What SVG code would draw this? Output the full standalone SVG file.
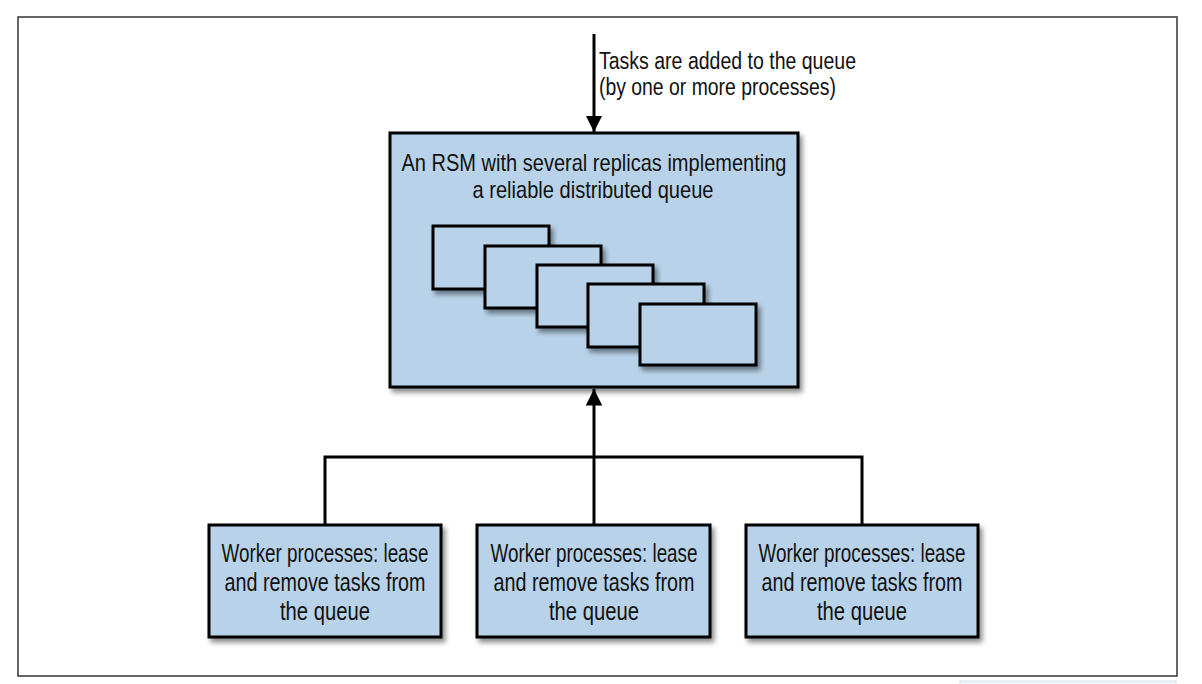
<svg xmlns="http://www.w3.org/2000/svg" width="1202" height="684" viewBox="0 0 1202 684">
<defs>
<filter id="sh" x="-10%" y="-10%" width="130%" height="140%">
<feDropShadow dx="3" dy="4" stdDeviation="2.5" flood-color="#000" flood-opacity="0.45"/>
</filter>
<marker id="arr" viewBox="0 0 10 10" refX="10" refY="5" markerWidth="5.5" markerHeight="6" markerUnits="strokeWidth" orient="auto">
<path d="M0,0 L10,5 L0,10 Z" fill="#000"/>
</marker>
</defs>
<style>
.box{fill:#b8d3e9;stroke:#000;stroke-width:3;filter:url(#sh)}
.t{font-family:"Liberation Sans Narrow","Liberation Sans",Arial,sans-serif;fill:#111;text-anchor:middle}
.lbl{font-family:"Liberation Sans Narrow","Liberation Sans",Arial,sans-serif;fill:#111}
.ln{stroke:#000;stroke-width:3;fill:none}
</style>
<rect x="0" y="0" width="1202" height="684" fill="#fff"/>
<rect x="18" y="17" width="1159" height="659" fill="#fff" stroke="#333" stroke-width="1.5"/>
<rect x="960" y="681" width="216" height="4" fill="#eef3f9" stroke="#dde6f0" stroke-width="1"/>

<g id="connectors">
<line class="ln" x1="594" y1="34" x2="594" y2="132" marker-end="url(#arr)"/>
<line class="ln" x1="594" y1="525" x2="594" y2="389" marker-end="url(#arr)"/>
<polyline class="ln" points="325,525 325,457 862,457 862,525"/>
</g>

<g id="label-top">
<text class="lbl" x="599" y="69" font-size="23" textLength="257" lengthAdjust="spacingAndGlyphs">Tasks are added to the queue</text>
<text class="lbl" x="599" y="95" font-size="23" textLength="237" lengthAdjust="spacingAndGlyphs">(by one or more processes)</text>
</g>

<g id="rsm">
<rect class="box" x="390" y="133" width="408" height="254"/>
<text class="t" x="594" y="171" font-size="24" textLength="385" lengthAdjust="spacingAndGlyphs">An RSM with several replicas implementing</text>
<text class="t" x="593" y="198" font-size="24" textLength="241" lengthAdjust="spacingAndGlyphs">a reliable distributed queue</text>
<g id="replicas">
<rect class="box" x="433" y="226" width="116" height="63"/>
<rect class="box" x="485" y="246" width="116" height="62"/>
<rect class="box" x="537" y="265" width="116" height="62"/>
<rect class="box" x="588" y="284" width="116" height="63"/>
<rect class="box" x="640" y="304" width="116" height="61"/>
</g>
</g>

<g id="worker1">
<rect class="box" x="209" y="525" width="232" height="112"/>
<text class="t" x="325" y="562" font-size="26" textLength="207" lengthAdjust="spacingAndGlyphs">Worker processes: lease</text>
<text class="t" x="325" y="591" font-size="26" textLength="201" lengthAdjust="spacingAndGlyphs">and remove tasks from</text>
<text class="t" x="325" y="620" font-size="26" textLength="90" lengthAdjust="spacingAndGlyphs">the queue</text>
</g>
<g id="worker2">
<rect class="box" x="477" y="525" width="233" height="112"/>
<text class="t" x="594" y="562" font-size="26" textLength="207" lengthAdjust="spacingAndGlyphs">Worker processes: lease</text>
<text class="t" x="594" y="591" font-size="26" textLength="201" lengthAdjust="spacingAndGlyphs">and remove tasks from</text>
<text class="t" x="594" y="620" font-size="26" textLength="90" lengthAdjust="spacingAndGlyphs">the queue</text>
</g>
<g id="worker3">
<rect class="box" x="746" y="525" width="232" height="112"/>
<text class="t" x="862" y="562" font-size="26" textLength="207" lengthAdjust="spacingAndGlyphs">Worker processes: lease</text>
<text class="t" x="862" y="591" font-size="26" textLength="201" lengthAdjust="spacingAndGlyphs">and remove tasks from</text>
<text class="t" x="862" y="620" font-size="26" textLength="90" lengthAdjust="spacingAndGlyphs">the queue</text>
</g>
</svg>
